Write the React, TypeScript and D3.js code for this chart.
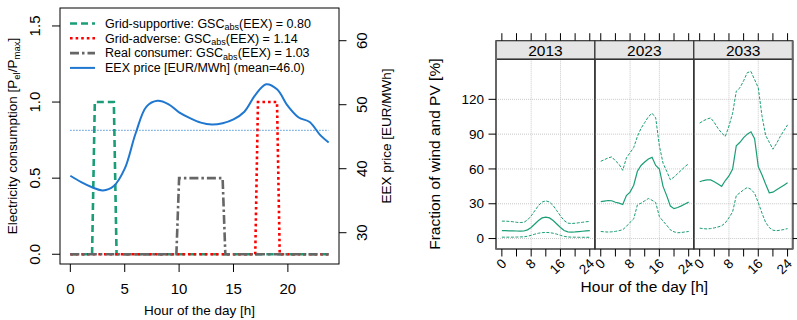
import React from "react";
import * as d3 from "d3";

const FONT = "'Liberation Sans', Arial, Helvetica, sans-serif";

// ---- left: example load profiles vs EEX price ----
const eexHours = [0, 1, 2, 3, 4, 5, 6, 7, 8, 9, 10, 11, 12, 13, 14, 15, 16, 17, 18, 19, 20, 21, 22, 23, 23.75];
const eexPrice = [38.9, 37.9, 37.1, 36.6, 37.3, 40.0, 45.5, 49.7, 50.6, 50.1, 48.8, 47.9, 47.2, 46.9, 47.1, 47.7, 48.9, 51.5, 53.2, 52.4, 49.8, 48.0, 47.3, 45.2, 44.1];
const eexMean = 46.0;

const supportiveHours = [0, 2, 2.25, 4, 4.25, 23.75];
const supportiveLoad = [0, 0, 1, 1, 0, 0];
const adverseHours = [0, 17, 17.25, 19, 19.25, 23.75];
const adverseLoad = [0, 0, 1, 1, 0, 0];
const realHours = [0, 9.75, 10, 14, 14.25, 23.75];
const realLoad = [0, 0, 0.5, 0.5, 0, 0];

const legendNames = ["Grid-supportive: GSC", "Grid-adverse: GSC", "Real consumer: GSC"];
const legendScores = ["0.80", "1.14", "1.03"];
const priceLegend = "EEX price [EUR/MWh] (mean=46.0)";

const loadTicks = [0, 0.5, 1, 1.5];
const priceTicks = [30, 40, 50, 60];
const hourTicks = [0, 5, 10, 15, 20];

// ---- right: fraction of wind and PV per year ----
const years = ["2013", "2023", "2033"];
const hourOfDay = [0, 1, 2, 3, 4, 5, 6, 7, 8, 9, 10, 11, 12, 13, 14, 15, 16, 17, 18, 19, 20, 21, 22, 23, 24];

const low2013 = [1.2, 1.2, 1.2, 1.2, 1.3, 1.4, 1.5, 2.0, 2.8, 3.8, 4.6, 5.1, 5.3, 5.1, 4.6, 3.8, 2.8, 1.9, 1.4, 1.2, 1.2, 1.1, 1.1, 1.1, 1.1];
const mid2013 = [6.8, 6.8, 6.7, 6.6, 6.5, 6.4, 6.5, 7.5, 9.5, 12.5, 15.5, 17.8, 18.5, 17.8, 15.5, 12.5, 9.5, 7.0, 5.8, 5.6, 5.7, 6.0, 6.3, 6.6, 6.8];
const high2013 = [15, 15, 14.8, 14.5, 14, 13.8, 14, 16, 19.5, 24, 28.5, 31.5, 32.5, 31.5, 28.5, 24, 19.5, 15.5, 13.3, 13, 13.2, 13.6, 14, 14.5, 14.8];

const low2023 = [6.1, 5.8, 5.6, 5.8, 6.2, 6.8, 7.6, 10.5, 14, 17, 29, 30.5, 32.5, 34.5, 33, 31, 19, 15, 11.5, 7.5, 5.8, 5.0, 5.2, 5.7, 6.1];
const mid2023 = [31.8, 32.3, 32.8, 32.6, 31.3, 30.5, 29.3, 37, 40, 46, 58, 63, 66, 68.5, 70, 63, 60, 45, 37, 28, 25.8, 26.8, 28.2, 29.8, 31.4];
const high2023 = [66.6, 68, 69.5, 70.4, 67, 64, 58.8, 69.5, 74, 78.5, 88, 95, 100, 105, 108, 104, 80, 65, 58, 50.7, 53, 56, 59, 62, 64.6];

const low2033 = [9, 8.5, 8.3, 8.6, 9.2, 10, 11, 13.5, 18, 23, 37, 39.5, 42, 44, 42.5, 39, 31, 22, 14, 9.5, 7.2, 6.8, 7.2, 7.8, 8.6];
const mid2033 = [49, 50, 50.5, 50.5, 49, 47, 45, 50, 54, 60, 80, 83, 87, 90, 92, 86, 62, 55, 47, 39.5, 40, 42, 44, 46, 48];
const high2033 = [99.5, 101.5, 103, 104, 100, 95, 91, 88, 97, 108, 127, 130, 136, 143, 144, 137, 130, 106, 89, 83, 77, 82, 88, 93, 98];

const shareLow = [low2013, low2023, low2033];
const shareMid = [mid2013, mid2023, mid2033];
const shareHigh = [high2013, high2023, high2033];

const shareTicks = [0, 30, 60, 90, 120];
const panelHourTicks = [0, 4, 8, 12, 16, 20, 24];
const panelHourLabels = [0, 8, 16, 24];
const panelGridHours = [8, 16];

const GREEN = "#1b9e77";

const zip = (xs: number[], ys: number[]) => xs.map((v, i) => [v, ys[i]] as [number, number]);

const LoadChart = () => {
  const x = d3.scaleLinear().domain([-0.95, 24.7]).range([60, 339]);
  const yL = d3.scaleLinear().domain([-0.064, 1.618]).range([264, 8]);
  const yR = d3.scaleLinear().domain([25.11, 65.11]).range([264, 8]);

  const loadLine = d3.line<[number, number]>().x(d => x(d[0])).y(d => yL(d[1]));
  const priceLine = d3
    .line<[number, number]>()
    .x(d => x(d[0]))
    .y(d => yR(d[1]))
    .curve(d3.curveCatmullRom.alpha(0.5));

  const profiles = [
    { d: zip(supportiveHours, supportiveLoad), col: GREEN, dash: "7,4" },
    { d: zip(adverseHours, adverseLoad), col: "#ff0000", dash: "2.6,3" },
    { d: zip(realHours, realLoad), col: "#666666", dash: "9,3,2.5,3" },
  ];
  const blue = "#1f77d0";

  return (
    <g fontFamily={FONT}>
      {profiles.map((p, i) => (
        <path key={i} d={loadLine(p.d) || ""} fill="none" stroke={p.col} strokeWidth={2.6} strokeDasharray={p.dash} />
      ))}
      <line x1={x(0)} x2={x(23.75)} y1={yR(eexMean)} y2={yR(eexMean)} stroke={blue} strokeWidth={1} strokeDasharray="1.2,1.8" />
      <path d={priceLine(zip(eexHours, eexPrice)) || ""} fill="none" stroke={blue} strokeWidth={2} />

      <rect x={60} y={8} width={279} height={256} fill="none" stroke="#000" strokeWidth={1} />

      {/* left axis */}
      {loadTicks.map(t => (
        <g key={t}>
          <line x1={52} x2={60} y1={yL(t)} y2={yL(t)} stroke="#000" />
          <text transform={`translate(35,${yL(t)}) rotate(-90)`} textAnchor="middle" dy="0.35em" fontSize={15}>
            {t.toFixed(1)}
          </text>
        </g>
      ))}
      <text transform="translate(12,136) rotate(-90)" textAnchor="middle" dy="0.35em" fontSize={13.5}>
        Electricity consumption [P<tspan fontSize={9.5} dy="3">el</tspan>
        <tspan dy="-3">/P</tspan>
        <tspan fontSize={9.5} dy="3">max</tspan>
        <tspan dy="-3">]</tspan>
      </text>

      {/* right axis */}
      {priceTicks.map(t => (
        <g key={t}>
          <line x1={339} x2={346.5} y1={yR(t)} y2={yR(t)} stroke="#000" />
          <text transform={`translate(362,${yR(t)}) rotate(-90)`} textAnchor="middle" dy="0.35em" fontSize={15}>
            {t}
          </text>
        </g>
      ))}
      <text transform="translate(386,136) rotate(-90)" textAnchor="middle" dy="0.35em" fontSize={13.5}>
        EEX price [EUR/MWh]
      </text>

      {/* bottom axis */}
      {hourTicks.map(t => (
        <g key={t}>
          <line x1={x(t)} x2={x(t)} y1={264} y2={272} stroke="#000" />
          <text x={x(t)} y={289} textAnchor="middle" dy="0.35em" fontSize={15}>
            {t}
          </text>
        </g>
      ))}
      <text x={199.5} y={310} textAnchor="middle" dy="0.35em" fontSize={13.5}>
        Hour of the day [h]
      </text>

      {/* legend */}
      {legendNames.map((name, i) => {
        const ly = 23.5 + i * 14.8;
        return (
          <g key={name}>
            <line x1={70} x2={95} y1={ly} y2={ly} stroke={profiles[i].col} strokeWidth={2.6} strokeDasharray={profiles[i].dash} />
            <text x={105} y={ly} dy="0.35em" fontSize={12.5}>
              {name}
              <tspan fontSize={9} dy="2.5">abs</tspan>
              <tspan dy="-2.5">(EEX) = {legendScores[i]}</tspan>
            </text>
          </g>
        );
      })}
      <line x1={70} x2={95} y1={23.5 + 3 * 14.8} y2={23.5 + 3 * 14.8} stroke={blue} strokeWidth={2} />
      <text x={105} y={23.5 + 3 * 14.8} dy="0.35em" fontSize={12.5}>
        {priceLegend}
      </text>
    </g>
  );
};

const ShareChart = () => {
  const left0 = 496;
  const panelW = 98.9;
  const top = 59.3;
  const bottom = 249;
  const stripTop = 40.7;
  const xP = d3.scaleLinear().domain([-1.6, 25.4]).range([0, panelW]);
  const y = d3.scaleLinear().domain([-9, 154.5]).range([bottom, top]);
  const line = d3.line<[number, number]>().x(d => xP(d[0])).y(d => y(d[1]));
  const right = left0 + panelW * years.length;

  return (
    <g fontFamily={FONT}>
      {years.map((yr, i) => {
        const px = left0 + i * panelW;
        return (
          <g key={yr} transform={`translate(${px},0)`}>
            {shareTicks.map(t => (
              <line key={t} x1={0} x2={panelW} y1={y(t)} y2={y(t)} stroke="#c8c8c8" strokeWidth={1} strokeDasharray="1,1" />
            ))}
            {panelGridHours.map(h => (
              <line key={h} x1={xP(h)} x2={xP(h)} y1={top} y2={bottom} stroke="#c8c8c8" strokeWidth={1} strokeDasharray="1,1" />
            ))}
            <path d={line(zip(hourOfDay, shareHigh[i])) || ""} fill="none" stroke={GREEN} strokeWidth={1} strokeDasharray="3,1.5" />
            <path d={line(zip(hourOfDay, shareMid[i])) || ""} fill="none" stroke={GREEN} strokeWidth={1.2} />
            <path d={line(zip(hourOfDay, shareLow[i])) || ""} fill="none" stroke={GREEN} strokeWidth={1} strokeDasharray="3,1.5" />

            <rect x={0} y={stripTop} width={panelW} height={top - stripTop} fill="#e5e5e5" stroke="#333" strokeWidth={1.2} />
            <text x={panelW / 2} y={(stripTop + top) / 2} dy="0.36em" textAnchor="middle" fontSize={15.5}>
              {yr}
            </text>
            <rect x={0} y={top} width={panelW} height={bottom - top} fill="none" stroke="#333" strokeWidth={1.4} />

            {panelHourTicks.map(h => (
              <g key={h}>
                <line x1={xP(h)} x2={xP(h)} y1={stripTop} y2={stripTop - 7.5} stroke="#000" />
                <line x1={xP(h)} x2={xP(h)} y1={bottom} y2={bottom + 7.5} stroke="#000" />
              </g>
            ))}
            {panelHourLabels.map(h => (
              <text key={h} transform={`translate(${xP(h) + 2},${bottom + 12}) rotate(-45)`} textAnchor="end" dy="0.35em" fontSize={13.5}>
                {h}
              </text>
            ))}
          </g>
        );
      })}
      <line x1={left0} x2={left0} y1={stripTop} y2={bottom} stroke="#666" strokeWidth={2} />
      <line x1={right} x2={right} y1={stripTop} y2={bottom} stroke="#666" strokeWidth={2} />

      {shareTicks.map(t => (
        <g key={t}>
          <line x1={488.5} x2={left0} y1={y(t)} y2={y(t)} stroke="#000" />
          <line x1={right} x2={right + 7} y1={y(t)} y2={y(t)} stroke="#000" />
          <text x={484} y={y(t)} dy="0.35em" textAnchor="end" fontSize={13.5}>
            {t}
          </text>
        </g>
      ))}
      <text transform={`translate(435,${(top + bottom) / 2}) rotate(-90)`} textAnchor="middle" dy="0.35em" fontSize={15.5}>
        Fraction of wind and PV [%]
      </text>
      <text x={(left0 + right) / 2} y={287} dy="0.35em" textAnchor="middle" fontSize={15.5}>
        Hour of the day [h]
      </text>
    </g>
  );
};

const App = () => (
  <svg width={797} height={320} style={{ position: "absolute", left: 0, top: 0, background: "#fff" }}>
    <LoadChart />
    <ShareChart />
  </svg>
);

export default App;
